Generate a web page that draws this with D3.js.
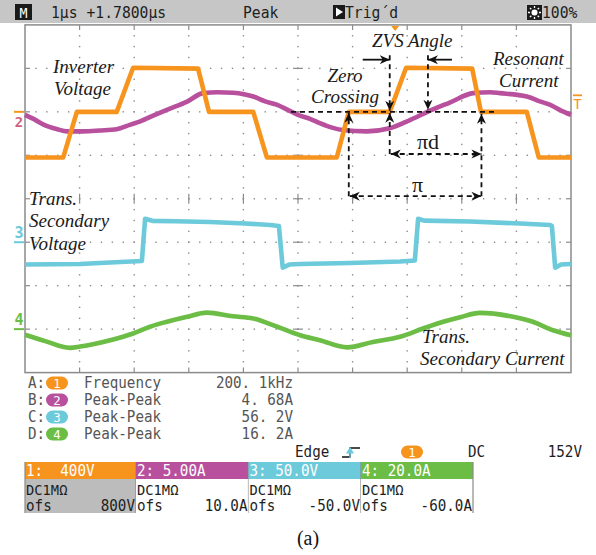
<!DOCTYPE html>
<html><head><meta charset="utf-8">
<script src="https://cdn.jsdelivr.net/npm/d3@7"></script>
<style>
html,body{margin:0;padding:0;background:#fff;}
svg{display:block;}
text{white-space:pre;}
</style></head><body>
<svg id="scope" width="596" height="555"></svg>
<script>
// ---- acquisition: 1 µs/div, 10 divisions ----
const timeDomain = [0, 10];

// CH1 inverter voltage (V)
const ch1Time  = [0, 0.70, 0.95, 1.68, 1.98, 3.17, 3.37, 4.18, 4.43, 5.71, 5.93, 6.68, 6.98, 8.19, 8.35, 9.19, 9.41, 10];
const ch1Volts = [-420, -420, 0, 0, 406, 398, 0, 0, -420, -420, 0, 0, 406, 398, 0, 0, -420, -420];

// CH2 resonant current (A)
const ch2Time = [0, 0.18, 0.35, 0.59, 0.77, 1.06, 1.37, 1.68, 1.92, 2.11, 2.38, 2.60, 2.97, 3.26, 3.53, 3.81, 4.03, 4.18, 4.40, 4.62, 4.82, 5.00,
                 5.22, 5.40, 5.64, 5.82, 6.26, 6.68, 7.05, 7.38, 7.78, 8.21, 8.52, 8.70, 9.19, 9.43, 9.62, 9.80, 10];
const ch2Amps = [-0.35, -0.9, -1.5, -2.0, -2.25, -2.25, -2.15, -2.0, -1.5, -1.1, -0.35, 0.23, 1.18, 2.15, 2.25, 2.2, 2.0, 1.76, 1.2, 0.8, 0.2, -0.35,
                 -0.8, -1.3, -1.85, -2.1, -2.25, -1.9, -0.95, 0.03, 1.07, 2.15, 2.25, 2.15, 1.76, 1.2, 0.8, 0.2, -0.35];

// CH3 transformer secondary voltage (V)
const ch3Time  = [0, 1.01, 1.56, 2.14, 2.20, 2.33, 2.75, 3.39, 4.03, 4.49, 4.65, 4.72, 4.84, 5.04,
                  5.95, 6.87, 7.14, 7.20, 7.31, 8.15, 9.07, 9.62, 9.65, 9.71, 9.82, 10];
const ch3Volts = [-25.7, -25.1, -23.4, -21.7, 27.0, 24.6, 24.2, 23.2, 21.5, 19.8, 18.7, -29.2, -25.7, -25.1,
                  -24.0, -22.2, -21.1, 27.0, 24.8, 23.8, 21.5, 19.8, 18.7, -29.2, -25.7, -25.1];

// CH4 transformer secondary current (A)
const ch4Time = [0, 0.37, 0.82, 1.01, 1.56, 1.98, 2.29, 2.60, 2.97, 3.33, 3.81, 4.18, 4.62, 5.04,
                 5.40, 5.90, 6.37, 6.87, 7.29, 7.66, 7.97, 8.33, 8.94, 9.30, 9.67, 10];
const ch4Amps = [-2.6, -5.5, -8.6, -8.0, -5.1, -2.0, 1.1, 3.4, 5.7, 7.6, 5.9, 4.9, 1.1, -2.8,
                 -5.1, -8.4, -5.9, -3.5, 0.3, 3.4, 5.5, 7.5, 5.7, 3.4, -0.5, -2.8];

// channel settings
const channelIds    = ["1", "2", "3", "4"];
const channelPerDiv = [400, 5, 50, 20];
const channelScale  = ["1:  400V", "2: 5.00A", "3: 50.0V", "4: 20.0A"];
const channelCoupling = ["DC1MΩ", "DC1MΩ", "DC1MΩ", "DC1MΩ"];
const channelOffset = ["800V", "10.0A", "-50.0V", "-60.0A"];

// automatic measurements
const measureSlots  = ["A:", "B:", "C:", "D:"];
const measureNames  = ["Frequency", "Peak-Peak", "Peak-Peak", "Peak-Peak"];
const measureValues = ["200. 1kHz", "4. 68A", "56. 2V", "16. 2A"];

// trigger
const triggerLevel = 152;           // V on CH1
const triggerTime = 6.78;           // trigger point on the time axis (µs)

// ---- layout ----
const COLORS = ["#f7941e", "#b8509e", "#6ccadb", "#6cbd45"];
const POS = [2, 2, -1, -3];         // reference position of each channel (div)
const X0 = 25, X1 = 571, Y0 = 24.9, Y1 = 372.6;
const MONO = "'DejaVu Sans Mono', 'Liberation Mono', monospace";
const SERIF = "'Liberation Serif', 'Times New Roman', serif";

const svg = d3.select("#scope");
const x = d3.scaleLinear().domain(timeDomain).range([X0, X1]);
const yDiv = d3.scaleLinear().domain([-4, 4]).range([Y1, Y0]);
const xDiv = d3.scaleLinear().domain([0, 10]).range([X0, X1]);
const yCh = POS.map((p, i) => d3.scaleLinear()
  .domain([(-4 - p) * channelPerDiv[i], (4 - p) * channelPerDiv[i]]).range([Y1, Y0]));

function mono(g, px, py, str, o = {}) {
  return g.append("text")
    .attr("transform", `translate(${px},${py}) scale(${o.sx ?? 0.95},1)`)
    .attr("font-family", MONO).attr("font-size", o.size ?? 15)
    .attr("text-anchor", o.anchor ?? "start")
    .attr("fill", o.fill ?? "#1e1e1e")
    .attr("font-weight", o.weight ?? "normal")
    .attr("xml:space", "preserve")
    .text(str);
}

// ---- header bar ----
const head = svg.append("g");
head.append("rect").attr("x", 0).attr("y", 0).attr("width", 596).attr("height", 23).attr("fill", "#c6c6c6");
head.append("rect").attr("x", 15).attr("y", 4).attr("width", 17).attr("height", 16).attr("fill", "#1a1a1a");
mono(head, 23.5, 18, "M", { anchor: "middle", fill: "#fff", size: 14 });
mono(head, 51, 18, "1µs +1.7800µs", { size: 15.5 });
mono(head, 243, 18, "Peak", { size: 15.5 });
head.append("rect").attr("x", 333).attr("y", 5).attr("width", 12).attr("height", 14).attr("fill", "#1a1a1a");
head.append("path").attr("d", "M336,7.5 L343,12 L336,16.5 Z").attr("fill", "#fff");
mono(head, 345, 18, "Trig´d", { size: 15.5 });
head.append("rect").attr("x", 527).attr("y", 5).attr("width", 15).attr("height", 15).attr("fill", "#1a1a1a");
head.append("circle").attr("cx", 534.5).attr("cy", 12.5).attr("r", 3).attr("fill", "#fff");
d3.range(8).forEach(k => {
  const a = k * Math.PI / 4;
  head.append("line")
    .attr("x1", 534.5 + 4.5 * Math.cos(a)).attr("y1", 12.5 + 4.5 * Math.sin(a))
    .attr("x2", 534.5 + 6.5 * Math.cos(a)).attr("y2", 12.5 + 6.5 * Math.sin(a))
    .attr("stroke", "#fff").attr("stroke-width", 1.3);
});
mono(head, 542, 18, "100%", { size: 15.5 });

// ---- graticule ----
const grid = svg.append("g").attr("fill", "#8c8c8c");
const dotStepX = (X1 - X0) / 50, dotStepY = (Y1 - Y0) / 32;
for (let i = 1; i < 10; i++) {
  const gx = xDiv(i);
  for (let k = 1; k < 32; k++) grid.append("rect").attr("x", gx - 0.7).attr("y", Y0 + k * dotStepY - 0.7).attr("width", 1.4).attr("height", 1.4);
}
for (let j = -3; j <= 3; j++) {
  const gy = yDiv(j);
  for (let k = 1; k < 50; k++) grid.append("rect").attr("x", X0 + k * dotStepX - 0.7).attr("y", gy - 0.7).attr("width", 1.4).attr("height", 1.4);
}
const ticks = svg.append("g").attr("stroke", "#8c8c8c").attr("stroke-width", 1.2);
for (let j = -3; j <= 3; j++) {
  ticks.append("line").attr("x1", xDiv(5) - 5).attr("x2", xDiv(5) + 5).attr("y1", yDiv(j)).attr("y2", yDiv(j));
  ticks.append("line").attr("x1", X0).attr("x2", X0 + 5).attr("y1", yDiv(j)).attr("y2", yDiv(j));
  ticks.append("line").attr("x1", X1 - 5).attr("x2", X1).attr("y1", yDiv(j)).attr("y2", yDiv(j));
}
for (let i = 1; i < 10; i++) {
  ticks.append("line").attr("x1", xDiv(i)).attr("x2", xDiv(i)).attr("y1", yDiv(0) - 5).attr("y2", yDiv(0) + 5);
  ticks.append("line").attr("x1", xDiv(i)).attr("x2", xDiv(i)).attr("y1", Y0).attr("y2", Y0 + 5);
  ticks.append("line").attr("x1", xDiv(i)).attr("x2", xDiv(i)).attr("y1", Y1 - 5).attr("y2", Y1);
}
svg.append("rect").attr("x", X0).attr("y", Y0).attr("width", X1 - X0).attr("height", Y1 - Y0)
  .attr("fill", "none").attr("stroke", "#8a8a8a").attr("stroke-width", 1.5);

// ---- traces ----
const traces = [
  [ch2Time, ch2Amps, 1],
  [ch1Time, ch1Volts, 0],
  [ch3Time, ch3Volts, 2],
  [ch4Time, ch4Amps, 3]
];
const traceG = svg.append("g");
traces.forEach(([t, v, c]) => {
  const pts = t.map((tt, i) => [tt, v[i]]);
  const line = d3.line().x(d => x(d[0])).y(d => yCh[c](d[1]))
    .curve(c === 0 || c === 2 ? d3.curveLinear : d3.curveMonotoneX);
  traceG.append("path").datum(pts).attr("d", line)
    .attr("fill", "none").attr("stroke", COLORS[c]).attr("stroke-width", 4.6)
    .attr("stroke-linejoin", "round").attr("stroke-linecap", "butt");
});

// ---- channel / trigger markers ----
const mk = svg.append("g");
mk.append("line").attr("x1", 14).attr("x2", 24).attr("y1", yCh[0](0)).attr("y2", yCh[0](0)).attr("stroke", COLORS[0]).attr("stroke-width", 2);
mk.append("text").attr("x", 19).attr("y", yCh[1](0) + 15).attr("text-anchor", "middle")
  .attr("font-family", MONO).attr("font-size", 14).attr("font-weight", "bold").attr("fill", "#d0607e").text("2");
[2, 3].forEach(c => {
  mk.append("line").attr("x1", 14).attr("x2", 24).attr("y1", yCh[c](0)).attr("y2", yCh[c](0)).attr("stroke", COLORS[c]).attr("stroke-width", 2);
  mk.append("text").attr("x", 19).attr("y", yCh[c](0) - 4).attr("text-anchor", "middle")
    .attr("font-family", MONO).attr("font-size", 15).attr("font-weight", "bold").attr("fill", COLORS[c]).text(channelIds[c]);
});
const ty = yCh[0](triggerLevel);
mk.append("line").attr("x1", 573).attr("x2", 582).attr("y1", ty).attr("y2", ty).attr("stroke", COLORS[0]).attr("stroke-width", 1.8);
mk.append("text").attr("x", 577.5).attr("y", ty + 14).attr("text-anchor", "middle")
  .attr("font-family", MONO).attr("font-size", 14).attr("fill", COLORS[0]).text("T");
mk.append("path").attr("d", `M${x(triggerTime) - 4},${Y0 + 1} h8 l-4,5 Z`).attr("fill", COLORS[0]);

// ---- annotations ----
const defs = svg.append("defs");
defs.append("marker").attr("id", "arw").attr("viewBox", "0 0 10 10")
  .attr("refX", 10).attr("refY", 5).attr("markerWidth", 10).attr("markerHeight", 10)
  .attr("markerUnits", "userSpaceOnUse").attr("orient", "auto-start-reverse")
  .append("path").attr("d", "M0,0.5 L10,5 L0,9.5 L3,5 Z").attr("fill", "#111");

const ann = svg.append("g").attr("stroke", "#111").attr("fill", "none").attr("stroke-width", 1.8);
const dash = "5,4";
const zc = 5.93, zvs = 6.68, icross = 7.38, halfEnd = 8.36;   // µs
const yZero = yCh[0](0);
const yTopAnn = yDiv(3.3), yZvsArrow = yDiv(3.2), yPid = yDiv(1.03), yPi = yDiv(0.06);
function seg(x1, y1, x2, y2, o = {}) {
  const l = ann.append("line").attr("x1", x1).attr("y1", y1).attr("x2", x2).attr("y2", y2);
  if (o.dashed !== false) l.attr("stroke-dasharray", dash);
  if (o.end) l.attr("marker-end", "url(#arw)");
  if (o.start) l.attr("marker-start", "url(#arw)");
  return l;
}
seg(x(5.0) - 7, yZero, x(8.7) - 5, yZero);
seg(x(zc), yPi, x(zc), yZero + 1, { end: true });
seg(x(zvs), yTopAnn, x(zvs), yZero - 1, { end: true });
seg(x(zvs), yPid, x(zvs), yZero + 1, { end: true });
seg(x(icross), yTopAnn, x(icross), yZero - 2, { end: true });
seg(x(halfEnd), yPi, x(halfEnd), yZero + 2, { end: true });
seg(x(zvs) - 27, yZvsArrow, x(zvs), yZvsArrow, { end: true, dashed: false });
seg(x(icross) + 24, yZvsArrow, x(icross), yZvsArrow, { end: true, dashed: false });
seg(x(zvs) + 1, yPid, x(halfEnd), yPid, { start: true, end: true });
seg(x(zc) + 1, yPi, x(halfEnd), yPi, { start: true, end: true });

const lab = svg.append("g").attr("font-family", SERIF).attr("fill", "#1a1a1a");
function label(px, py, str, o = {}) {
  lab.append("text").attr("x", px).attr("y", py).attr("font-size", o.size ?? 19)
    .attr("font-style", o.italic === false ? "normal" : "italic")
    .attr("text-anchor", o.anchor ?? "start").text(str);
}
label(53, 73, "Inverter");
label(54, 95, "Voltage");
label(345, 82, "Zero", { anchor: "middle" });
label(345, 103, "Crossing", { anchor: "middle" });
label(372, 47, "ZVS Angle");
label(493, 65, "Resonant");
label(499, 87, "Current");
label(417, 149, "πd", { italic: false, size: 22 });
label(412, 192, "π", { italic: false, size: 22 });
label(29, 205, "Trans.");
label(29, 227, "Secondary");
label(29, 250, "Voltage");
label(422, 343, "Trans.");
label(420, 365, "Secondary Current");

// ---- measurement readout ----
const meas = svg.append("g");
measureSlots.forEach((s, i) => {
  const by = 388 + i * 17;
  mono(meas, 28, by, s, { fill: "#555" });
  meas.append("rect").attr("x", 46).attr("y", by - 11.5).attr("width", 22).attr("height", 13).attr("rx", 6.5).attr("fill", COLORS[i]);
  mono(meas, 57, by, channelIds[i], { anchor: "middle", fill: "#fff", size: 13 });
  mono(meas, 84, by, measureNames[i], { fill: "#555" });
  mono(meas, 293, by, measureValues[i], { anchor: "end", fill: "#555" });
});
const ey = 457;
mono(meas, 295, ey, "Edge");
meas.append("path").attr("d", `M342,${ey} h8 v-9 h10`).attr("stroke", "#111").attr("stroke-width", 1.3).attr("fill", "none");
meas.append("path").attr("d", `M350,${ey - 9} l-3,5 h6 Z M350,${ey - 5} v6`).attr("fill", COLORS[2]).attr("stroke", COLORS[2]).attr("stroke-width", 1.2);
meas.append("rect").attr("x", 401).attr("y", ey - 11.5).attr("width", 22).attr("height", 13).attr("rx", 6.5).attr("fill", COLORS[0]);
mono(meas, 412, ey, "1", { anchor: "middle", fill: "#fff", size: 13 });
mono(meas, 468, ey, "DC");
mono(meas, 582, ey, "152V", { anchor: "end" });

// ---- channel setting boxes ----
const boxX = [25, 136, 248.5, 361, 473];
const box = svg.append("g");
channelIds.forEach((id, i) => {
  const bx = boxX[i], bw = boxX[i + 1] - boxX[i];
  box.append("rect").attr("x", bx).attr("y", 462).attr("width", bw).attr("height", 17).attr("fill", COLORS[i]);
  box.append("rect").attr("x", bx).attr("y", 479).attr("width", bw).attr("height", 34).attr("fill", i === 0 ? "#bcbcbc" : "#fff");
  box.append("line").attr("x1", bx + bw).attr("x2", bx + bw).attr("y1", 462).attr("y2", 513).attr("stroke", "#8a8a8a").attr("stroke-width", 1.2);
  mono(box, bx + 1, 476, channelScale[i], { fill: "#fff" });
  mono(box, bx + 1, 495, channelCoupling[i], { size: 14.5 });
  mono(box, bx + 1, 511, "ofs");
  mono(box, bx + bw - 1, 511, channelOffset[i], { anchor: "end" });
});
box.append("line").attr("x1", 25).attr("x2", 25).attr("y1", 462).attr("y2", 513).attr("stroke", "#8a8a8a").attr("stroke-width", 1.2);

svg.append("text").attr("x", 308).attr("y", 545).attr("text-anchor", "middle")
  .attr("font-family", SERIF).attr("font-size", 20).attr("fill", "#111").text("(a)");
</script>
</body></html>
